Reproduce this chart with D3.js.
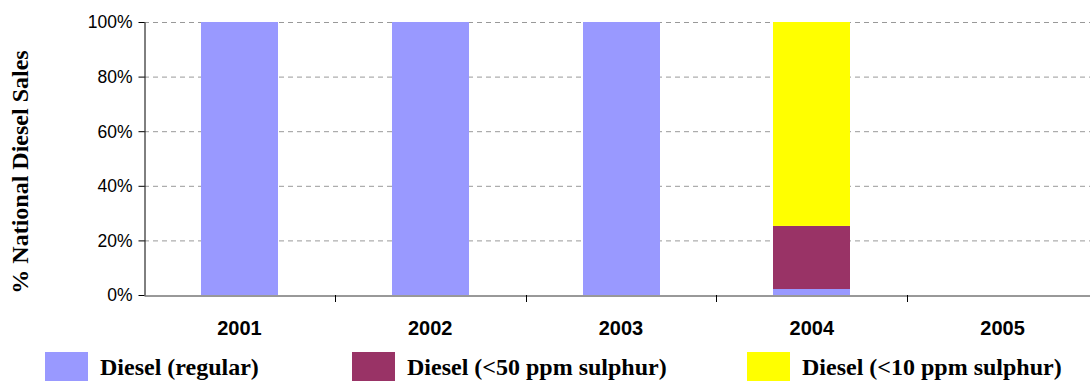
<!DOCTYPE html>
<html>
<head>
<meta charset="utf-8">
<script src="https://cdn.jsdelivr.net/npm/d3@7"></script>
<style>
  html, body { margin: 0; padding: 0; background: #fff; }
  svg { display: block; }
</style>
</head>
<body>
<svg id="chart" width="1090" height="383"></svg>
<script>
// Share of national diesel sales by fuel grade
const years = ["2001", "2002", "2003", "2004", "2005"];
const seriesNames = ["Diesel (regular)", "Diesel (<50 ppm sulphur)", "Diesel (<10 ppm sulphur)"];
const regular = [100, 100, 100, 2.2, 0];
const ppm50 = [0, 0, 0, 23.1, 0];
const ppm10 = [0, 0, 0, 74.7, 0];
const colors = ["#9999FF", "#993366", "#FFFF00"];
const yTicks = [0, 20, 40, 60, 80, 100];

const svg = d3.select("#chart");
const W = 1090, H = 383;
const plotLeft = 144, plotTop = 22, plotBottom = 295;
// the category band runs slightly past the right edge of the canvas
const bandEnd = 1098;

const x = d3.scaleBand().domain(years).range([plotLeft, bandEnd]).paddingInner(0).paddingOuter(0);
const y = d3.scaleLinear().domain([0, 100]).range([plotBottom, plotTop]);

// gridlines
svg.append("g")
  .selectAll("line")
  .data(yTicks.filter(t => t > 0))
  .join("line")
  .attr("x1", plotLeft).attr("x2", W)
  .attr("y1", d => y(d) + 0.5).attr("y2", d => y(d) + 0.5)
  .attr("stroke", "#999").attr("stroke-width", 1)
  .attr("stroke-dasharray", "5,4");

// stacked bars
const rows = years.map((yr, i) => ({ year: yr, a: regular[i], b: ppm50[i], c: ppm10[i] }));
const stack = d3.stack().keys(["a", "b", "c"])(rows);
const barW = 77;
svg.append("g")
  .selectAll("g")
  .data(stack)
  .join("g")
  .attr("fill", (d, i) => colors[i])
  .selectAll("rect")
  .data(d => d.filter(p => p[1] - p[0] > 0))
  .join("rect")
  .attr("x", d => Math.round(x(d.data.year) + (x.bandwidth() - barW) / 2))
  .attr("width", barW)
  .attr("y", d => y(d[1]))
  .attr("height", d => y(d[0]) - y(d[1]));

// y axis
const yAxis = d3.axisLeft(y).tickValues(yTicks).tickFormat(d => d + "%").tickSize(6).tickSizeOuter(0);
const gy = svg.append("g").attr("transform", `translate(${plotLeft + 0.5},0)`).call(yAxis);
gy.select(".domain").attr("stroke", "#000");
gy.selectAll(".tick line").attr("stroke", "#000");
gy.selectAll(".tick text")
  .attr("font-family", "Arial, 'Liberation Sans', sans-serif")
  .attr("font-size", 17.5).attr("fill", "#000").attr("x", -12).attr("dy", "0.34em");

// x axis
const xAxis = d3.axisBottom(x).tickSize(0).tickSizeOuter(0);
const gx = svg.append("g").attr("transform", `translate(0,${plotBottom + 0.5})`).call(xAxis);
gx.select(".domain").attr("stroke", "#333");
gx.selectAll(".tick text")
  .attr("font-family", "Arial, 'Liberation Sans', sans-serif")
  .attr("font-size", 20).attr("font-weight", "bold").attr("fill", "#000").attr("dy", 0).attr("y", 39);
// category separators
svg.append("g")
  .selectAll("line")
  .data(years.slice(1))
  .join("line")
  .attr("x1", d => Math.round(x(d)) + 0.5).attr("x2", d => Math.round(x(d)) + 0.5)
  .attr("y1", plotBottom).attr("y2", plotBottom + 7)
  .attr("stroke", "#000");

// y title
svg.append("text")
  .attr("transform", `translate(28,172) rotate(-90)`)
  .attr("text-anchor", "middle")
  .attr("font-family", "'Liberation Serif', 'Times New Roman', serif")
  .attr("font-weight", "bold").attr("font-size", 24)
  .text("% National Diesel Sales");

// legend
const legendX = [45, 352, 747];
const lg = svg.append("g").selectAll("g").data(seriesNames).join("g")
  .attr("transform", (d, i) => `translate(${legendX[i]},352)`);
lg.append("rect").attr("width", 43).attr("height", 29).attr("fill", (d, i) => colors[i]);
lg.append("text").attr("x", 55).attr("y", 23)
  .attr("font-family", "'Liberation Serif', 'Times New Roman', serif")
  .attr("font-weight", "bold").attr("font-size", 24).attr("fill", "#000")
  .text(d => d);
</script>
</body>
</html>
